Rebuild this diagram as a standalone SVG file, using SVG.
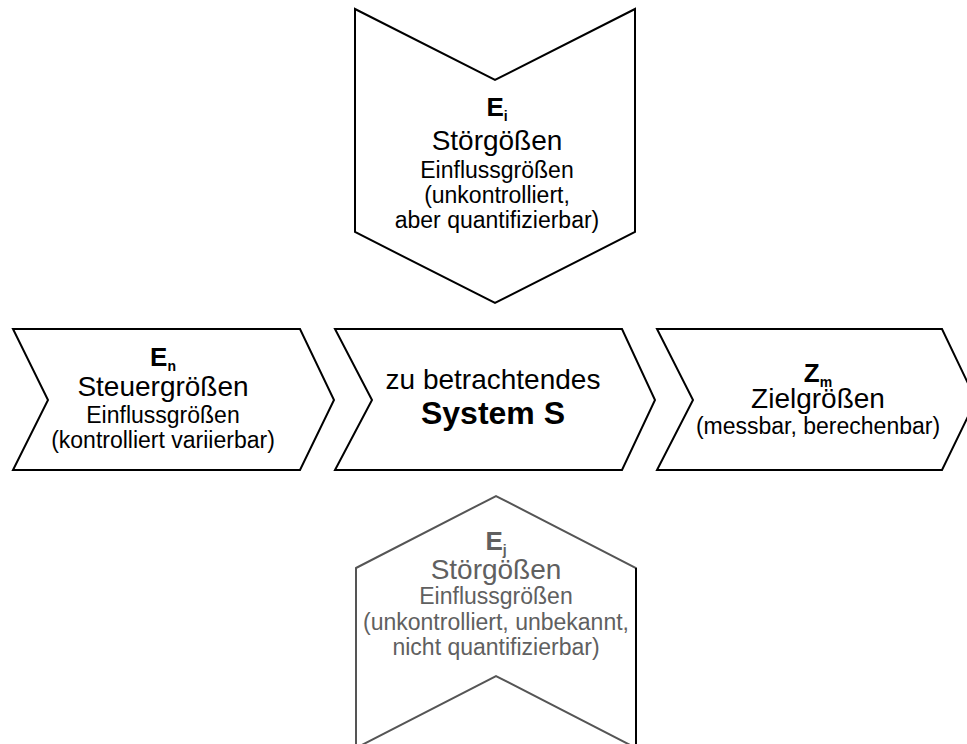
<svg xmlns="http://www.w3.org/2000/svg" width="967" height="744" viewBox="0 0 967 744">
<style>
.s{fill:#fff;stroke:#000;stroke-width:2;stroke-linejoin:miter}
.g{fill:#fff;stroke:#555;stroke-width:2}
text{font-family:"Liberation Sans",Arial,sans-serif;text-anchor:middle;fill:#000}
.e{font-weight:bold;font-size:26px}
.sub{font-size:14px}
.l{font-size:28px}
.m{font-size:23px}
.gt{fill:#606060}
</style>
<rect width="967" height="744" fill="#fff"/>
<g id="connectors"></g>
<g id="stoer-i">
<polygon class="s" points="355,9 495,80 635,9 635,232 495,303 355,232"/>
<text x="497" y="116" class="e">E<tspan class="sub" dy="5">i</tspan></text>
<text x="497" y="150" class="l">Störgößen</text>
<text x="497" y="178" class="m">Einflussgrößen</text>
<text x="497" y="203" class="m">(unkontrolliert,</text>
<text x="497" y="228" class="m">aber quantifizierbar)</text>
</g>
<g id="steuer">
<polygon class="s" points="13,329 300,329 334,400 300,470 13,470 48,400"/>
<text x="163" y="366" class="e">E<tspan class="sub" dy="5">n</tspan></text>
<text x="163" y="396" class="l">Steuergrößen</text>
<text x="163" y="423" class="m">Einflussgrößen</text>
<text x="163" y="448" class="m">(kontrolliert variierbar)</text>
</g>
<g id="system">
<polygon class="s" points="335,329 622,329 655,400 622,470 335,470 372,400"/>
<text x="493" y="389" class="l">zu betrachtendes</text>
<text x="493" y="424" font-size="32" font-weight="bold">System S</text>
</g>
<g id="ziel">
<polygon class="s" points="657,329 942,329 976,400 942,470 657,470 693,400"/>
<text x="818" y="382" class="e">Z<tspan class="sub" dy="5">m</tspan></text>
<text x="818" y="408" class="l">Zielgrößen</text>
<text x="818" y="434" class="m">(messbar, berechenbar)</text>
</g>
<g id="stoer-j">
<polygon class="g" points="356,568 496,496 636,568 636,748 496,676 356,748"/>
<line x1="636" y1="568" x2="636" y2="744" stroke="#000" stroke-width="2"/>
<text x="496" y="550" class="e gt">E<tspan class="sub" dy="5">j</tspan></text>
<text x="496" y="579" class="l gt">Störgößen</text>
<text x="496" y="604" class="m gt">Einflussgrößen</text>
<text x="496" y="630" class="m gt">(unkontrolliert, unbekannt,</text>
<text x="496" y="655" class="m gt">nicht quantifizierbar)</text>
</g>
</svg>
